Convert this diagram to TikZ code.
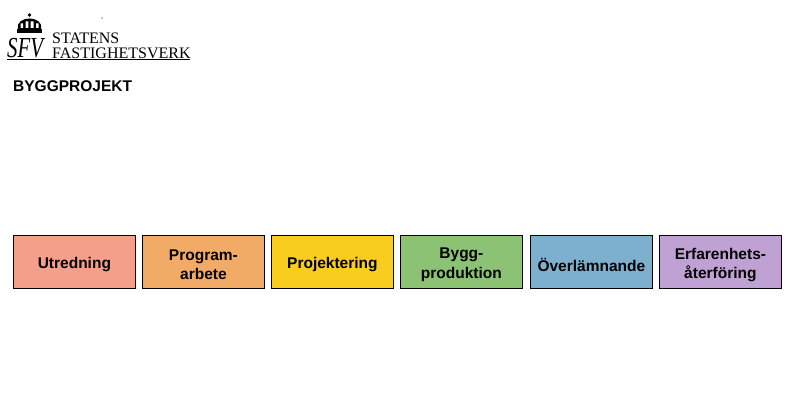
\documentclass[tikz,border=0pt]{standalone}
\usepackage{fontspec}
\setmainfont{Liberation Sans}
\newfontfamily\serif{Liberation Serif}
\definecolor{c1}{HTML}{F39F8A}
\definecolor{c2}{HTML}{F2AB66}
\definecolor{c3}{HTML}{F9CD1E}
\definecolor{c4}{HTML}{8CC273}
\definecolor{c5}{HTML}{7DB0CE}
\definecolor{c6}{HTML}{C0A1D4}
\tikzset{phase/.style={draw=black,line width=0.8pt,minimum width=122pt,minimum height=53pt,inner sep=1pt,align=center,font=\fontsize{15.5}{19.5}\selectfont\bfseries,anchor=north west},
 lbl/.style={inner sep=0pt,font=\fontsize{15.5}{19.5}\selectfont\bfseries,align=center}}
\begin{document}
\begin{tikzpicture}[x=1pt,y=-1pt]
\useasboundingbox (0,0) rectangle (795,419);
% logo crown
\fill[black] (17,33) rectangle (42,29);
\fill[black] (18,29) .. controls (15,15) and (44,15) .. (41,29) -- cycle;
\fill[white] (20.5,28) rectangle (23,23.5) (25.5,28) rectangle (28.3,21.5) (30.7,28) rectangle (33.5,21.5) (36,28) rectangle (38.5,23.5);
\fill[black] (29.5,15) circle (1.8);
\node[coordinate] (dot) at (102,18) {};
\fill[black] (dot) circle (0.6);
\node[anchor=south west,inner sep=0pt,font=\serif\itshape\fontsize{29}{29}\selectfont,xscale=0.72] (sfv) at (7,58) {SFV};
\node[anchor=south west,inner sep=0pt,font=\serif\fontsize{16}{16}\selectfont] (st) at (52,43.5) {STATENS};
\node[anchor=south west,inner sep=0pt,font=\serif\fontsize{16}{16}\selectfont] (fa) at (52,58.5) {FASTIGHETSVERK};
\draw[line width=0.9pt] (7,59.5) -- (190,59.5);
\node[anchor=west,inner sep=0pt,font=\fontsize{15.5}{18}\selectfont\bfseries] (title) at (13,86) {BYGGPROJEKT};
\foreach \n/\x/\c/\t in {p1/13/c1/Utredning, p2/142/c2/{Program-\\arbete}, p3/271/c3/Projektering, p4/400/c4/{Bygg-\\produktion}, p5/530/c5/Överlämnande, p6/659/c6/{Erfarenhets-\\återföring}}{
 \node[phase,fill=\c] (\n) at (\x,235) {};
 \node[lbl] (\n t) at ([yshift=-3pt]\n.center) {\t};
}
\end{tikzpicture}
\end{document}
